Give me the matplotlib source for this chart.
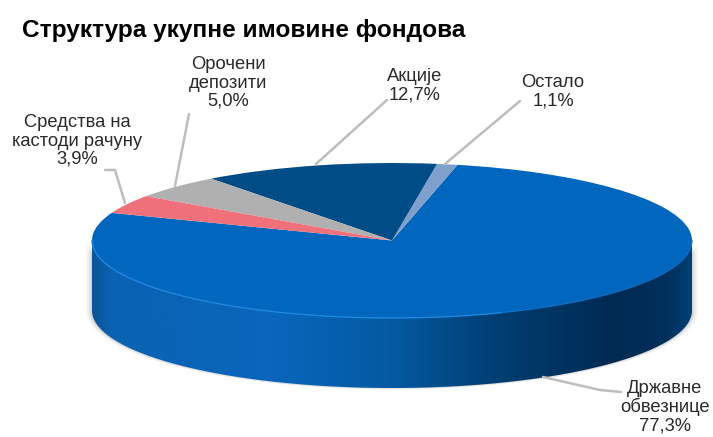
import matplotlib
matplotlib.use('Agg')
import matplotlib.pyplot as plt
import numpy as np
from matplotlib.colors import LinearSegmentedColormap
from matplotlib.patches import Polygon

plt.rcParams['font.family'] = ['Liberation Sans', 'DejaVu Sans']

title = 'Структура укупне имовине фондова'
labels = ['Државне\nобвезнице', 'Остало', 'Акције', 'Орочени\nдепозити', 'Средства на\nкастоди рачуну']
values = [77.3, 1.1, 12.7, 5.0, 3.9]
value_labels = ['77,3%', '1,1%', '12,7%', '5,0%', '3,9%']
colors = ['#0066BE', '#7F9FCC', '#004C86', '#B0B0B0', '#F0717C']

W, H = 713, 437
cx, cy, rx, ry = 392, 240.5, 300, 77.5
depth = 70 / ry

fig = plt.figure(figsize=(W / 100, H / 100), dpi=100)
ax = fig.add_axes([0, 0, 1, 1])

# wedges are round in data units, the axes limits squash them into the ellipse
wedges, _ = ax.pie(values, colors=colors, startangle=77.4 - values[0] / 100 * 360,
                   radius=1, wedgeprops={'linewidth': 0, 'zorder': 5})
ax.set_aspect('auto')
ax.axis('off')


def px(x, y):
    return (x - cx) / rx, (cy - y) / ry


# soft shadow under the disc
t = np.linspace(np.pi, 2 * np.pi, 200)
for grow, alpha in zip([6, 4.5, 3, 1.5], [0.04, 0.06, 0.08, 0.1]):
    sx = (1 + grow / rx) * np.cos(t)
    sy = (1 + grow / rx) * np.sin(t) - depth
    top = np.column_stack([sx[::-1], (1 + grow / rx) * np.sin(t[::-1])])
    ax.add_patch(Polygon(np.vstack([np.column_stack([sx, sy]), top]), closed=True,
                         fc='#606060', ec='none', alpha=alpha, zorder=1))

# side wall with horizontal gradient
wall_cmap = LinearSegmentedColormap.from_list('wall', [
    (0.0, '#0A5598'), (0.03, '#0A62B2'), (0.3, '#0A66BC'), (0.5, '#045AA2'),
    (0.68, '#003E72'), (0.87, '#002A52'), (0.96, '#00305C'), (1.0, '#003F74')])
wall = np.vstack([np.column_stack([np.cos(t), np.sin(t) - depth]),
                  np.column_stack([np.cos(t[::-1]), np.sin(t[::-1])])])
clip = Polygon(wall, closed=True, transform=ax.transData, fc='none', ec='none')
ax.add_patch(clip)
im = ax.imshow(np.linspace(0, 1, 400)[None, :], cmap=wall_cmap, aspect='auto',
               extent=(-1, 1, -1 - depth, 0), zorder=3)
im.set_clip_path(clip)
ax.set_aspect('auto')
ax.set_xlim((0 - cx) / rx, (W - cx) / rx)
ax.set_ylim((cy - H) / ry, (cy - 0) / ry)

# light rim along the front edge of the disc
rim = np.linspace(np.pi * 1.0, np.pi * 1.62, 150)
ax.plot(np.cos(rim), np.sin(rim), color='#1E86DE', lw=1.0, zorder=6)
rim2 = np.linspace(np.pi * 1.62, np.pi * 2, 100)
ax.plot(np.cos(rim2), np.sin(rim2), color='#0A6EC4', lw=0.8, zorder=6)

# leader lines, in picture pixels
leaders = [
    [(543, 377), (600, 390), (621, 392)],
    [(445, 164), (520, 101)],
    [(316, 164), (387, 100)],
    [(175, 186), (189, 114)],
    [(125, 203), (115, 170), (105, 170)],
]
for pts in leaders:
    xs, ys = zip(*[px(*p) for p in pts])
    ax.plot(xs, ys, color='#BDBDBD', lw=1.8, zorder=7, solid_capstyle='round')

# data labels, anchored by their centre
label_pos = [(665, 407), (553, 92), (415, 86), (228, 83), (77, 141)]
for lab, val, (x, y) in zip(labels, value_labels, label_pos):
    lx, ly = px(x, y)
    ax.text(lx, ly, lab + '\n' + val, ha='center', va='center', fontsize=13.2,
            color='#2A2A2A', linespacing=1.08, zorder=8)

fig.text(22 / W, 1 - 30 / H, title, fontsize=17.6, fontweight='bold', color='black',
         ha='left', va='center')

fig.savefig('out.png', dpi=100, facecolor='white')
